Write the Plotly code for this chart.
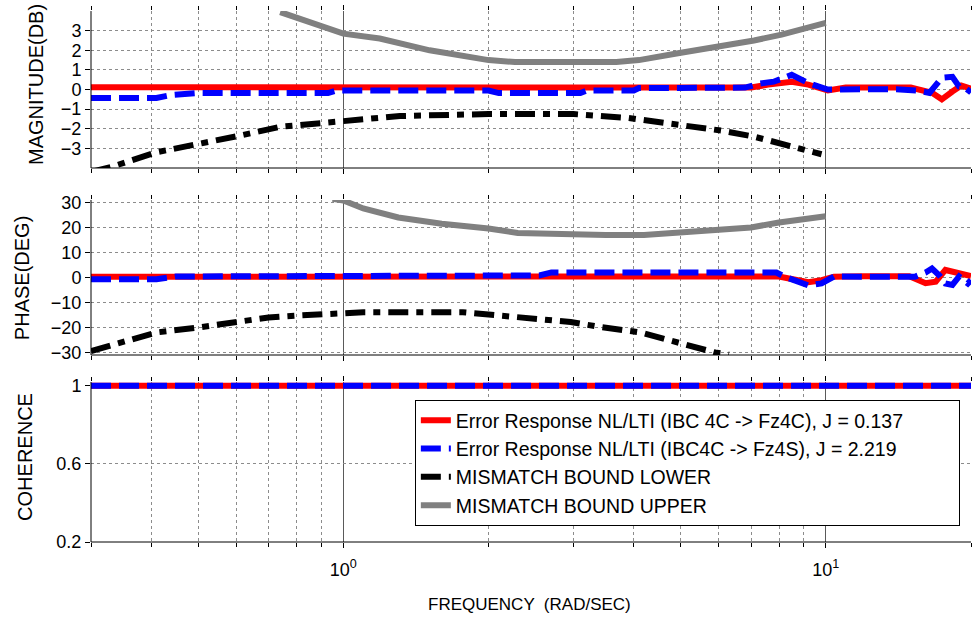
import plotly.graph_objects as go

FONT = "Liberation Sans, Arial, sans-serif"

# ---------------- data ----------------
# Magnitude error responses (dB)
mag_red_f = [0.3, 0.5, 1.0, 2.0, 4.0, 6.0, 7.0, 7.6, 8.5, 9.2, 10.1, 11.0, 13.0, 15.0, 16.6, 17.4, 18.3, 19.1, 20.0]
mag_red_v = [0.12, 0.12, 0.12, 0.12, 0.12, 0.1, 0.1, 0.25, 0.4, 0.25, -0.05, 0.1, 0.12, 0.1, -0.17, -0.5, -0.1, 0.2, 0.05]

mag_blue_f = [0.3, 0.41, 0.44, 0.5, 0.93, 0.97, 2.0, 2.1, 3.1, 3.2, 4.0, 4.1, 5.0, 6.0, 6.8, 7.3,
              7.8, 8.5, 9.2, 10.1, 12.0, 14.0, 15.5, 16.4, 17.4, 18.3, 18.9, 19.4, 20.0]
mag_blue_v = [-0.43, -0.43, -0.28, -0.18, -0.18, -0.05, -0.05, -0.18, -0.18, -0.05, -0.05, 0.08, 0.08, 0.08, 0.1, 0.3,
              0.4, 0.75, 0.33, 0.0, 0.02, 0.02, -0.05, -0.17, 0.6, 0.65, 0.15, 0.1, -0.15]

mag_low_f = [0.3, 0.33, 0.41, 0.5, 0.61, 0.74, 0.94, 1.31, 2.0, 3.0, 3.9, 4.3, 5.1, 6.1, 7.1, 8.1, 9.8]
mag_low_v = [-4.2, -3.95, -3.2, -2.8, -2.35, -1.9, -1.65, -1.35, -1.25, -1.25, -1.45, -1.6, -1.8, -2.1, -2.4, -2.75, -3.3]

mag_up_f = [0.74, 0.85, 1.0, 1.19, 1.51, 2.0, 2.27, 3.68, 4.1, 4.94, 6.07, 7.1, 8.1, 9.1, 10.0]
mag_up_v = [3.95, 3.45, 2.85, 2.6, 2.0, 1.5, 1.4, 1.4, 1.5, 1.85, 2.2, 2.5, 2.8, 3.1, 3.4]

# Phase error responses (deg)
ph_red_f = [0.3, 1.0, 3.0, 6.0, 8.0, 8.6, 9.2, 9.8, 10.4, 12.0, 14.9, 16.1, 16.9, 17.7, 18.6, 19.8, 20.0]
ph_red_v = [0.3, 0.3, 0.3, 0.3, 0.4, -0.8, -1.9, -1.1, 0.3, 0.5, 0.5, -2.3, -1.7, 3.0, 2.0, 0.9, 0.6]

ph_blue_f = [0.3, 0.41, 0.45, 0.58, 0.62, 0.97, 1.02, 2.2, 2.35, 2.55, 2.7, 5.0, 7.9, 8.2, 8.8, 9.2,
             9.8, 10.4, 12.0, 15.3, 16.1, 16.6, 17.2, 17.7, 18.3, 18.9, 19.7, 20.0]
ph_blue_v = [-0.7, -0.7, 0.4, 0.4, 1.0, 1.0, 0.4, 0.4, 0.8, 0.8, 2.0, 2.0, 2.0, 0.4, -2.0, -3.2,
             -2.4, 0.4, 0.3, 0.3, 2.0, 3.6, 0.8, -2.4, -3.0, 0.4, -2.4, -1.0]

ph_low_f = [0.3, 0.36, 0.41, 0.5, 0.58, 0.7, 0.81, 0.94, 1.1, 1.77, 2.11, 2.56, 2.96, 3.41, 4.14, 5.0, 5.9, 6.3]
ph_low_v = [-29.4, -25.0, -22.0, -20.0, -18.4, -16.0, -15.2, -14.4, -13.9, -13.9, -15.2, -16.4, -17.8, -19.8,
            -22.0, -26.3, -30.0, -30.8]

ph_up_f = [0.95, 1.0, 1.1, 1.3, 1.6, 2.0, 2.3, 2.8, 3.5, 4.2, 4.6, 5.0, 6.0, 7.0, 8.0, 9.0, 10.0]
ph_up_v = [31.5, 30.8, 27.6, 24.0, 21.5, 19.6, 17.8, 17.2, 17.0, 17.0, 17.5, 18.0, 18.8, 20.0, 22.0, 23.2, 24.5]

# Coherence
coh_f = [0.3, 20.0]
coh_red = [1.0, 1.0]
coh_blue = [1.0, 1.0]

names = [
    "Error Response NL/LTI (IBC 4C -> Fz4C), J = 0.137",
    "Error Response NL/LTI (IBC4C -> Fz4S), J = 2.219",
    "MISMATCH BOUND LOWER",
    "MISMATCH BOUND UPPER",
]

decade_ticks = [1, 10]
decade_text = ["10<sup>0</sup>", "10<sup>1</sup>"]
minor_ticks = [0.3, 0.4, 0.5, 0.6, 0.7, 0.8, 0.9, 2, 3, 4, 5, 6, 7, 8, 9, 20]

mag_ticks = [-3, -2, -1, 0, 1, 2, 3]
ph_ticks = [-30, -20, -10, 0, 10, 20, 30]
coh_ticks = [0.2, 0.6, 1]
coh_text = ["0.2", "0.6", "1"]

# ---------------- styles ----------------
W = 6
red = dict(color="#ff0000", width=W)
blue = dict(color="#0000ff", width=W, dash="20px,8px")
black = dict(color="#000000", width=W, dash="20px,8px,7px,8px")
gray = dict(color="#808080", width=W)

fig = go.Figure()


def add(xa, ya, f, v, line, name, show):
    fig.add_trace(go.Scatter(x=f, y=v, mode="lines", line=line, name=name,
                             showlegend=show, legendgroup=name, xaxis=xa, yaxis=ya))


# magnitude
add("x", "y", mag_up_f, mag_up_v, gray, names[3], False)
add("x", "y", mag_low_f, mag_low_v, black, names[2], False)
add("x", "y", mag_red_f, mag_red_v, red, names[0], False)
add("x", "y", mag_blue_f, mag_blue_v, blue, names[1], False)
# phase
add("x2", "y2", ph_up_f, ph_up_v, gray, names[3], False)
add("x2", "y2", ph_low_f, ph_low_v, black, names[2], False)
add("x2", "y2", ph_red_f, ph_red_v, red, names[0], False)
add("x2", "y2", ph_blue_f, ph_blue_v, blue, names[1], False)
# coherence (carries the legend)
add("x3", "y3", coh_f, coh_red, red, names[0], True)
add("x3", "y3", coh_f, coh_blue, blue, names[1], True)
add("x3", "y3", [None], [None], black, names[2], True)
add("x3", "y3", [None], [None], gray, names[3], True)

tick_font = dict(family=FONT, size=18, color="black")
GRID = "#8c8c8c"

xbase = dict(type="log", range=[-0.5229, 1.30103], tickmode="array", tickvals=decade_ticks,
             ticktext=decade_text,
             ticks="outside", ticklen=5, tickcolor="black", showline=False, mirror="ticks",
             showgrid=True, gridcolor="#5a5a5a", griddash="solid", gridwidth=1, zeroline=False,
             tickfont=tick_font, ticklabelstandoff=6,
             minor=dict(tickmode="array", tickvals=minor_ticks, ticks="outside", ticklen=4,
                        tickcolor="black", showgrid=True, gridcolor=GRID, griddash="dot", gridwidth=1))
ybase = dict(ticks="outside", ticklen=5, tickcolor="black", showline=False, mirror="ticks",
             showgrid=True, gridcolor=GRID, griddash="dot", gridwidth=1, zeroline=False,
             tickfont=tick_font)

doms = {"y": [0.703, 0.998], "y2": [0.3515, 0.643], "y3": [0.0, 0.3008]}

fig.update_layout(
    width=972, height=621,
    margin=dict(l=91, r=1, t=10, b=79),
    paper_bgcolor="white", plot_bgcolor="white",
    font=dict(family=FONT, color="black"),
    xaxis=dict(xbase, anchor="y", showticklabels=False),
    xaxis2=dict(xbase, anchor="y2", showticklabels=False),
    xaxis3=dict(xbase, anchor="y3", showticklabels=True),
    yaxis=dict(ybase, domain=doms["y"], anchor="x", range=[-4, 4], tickmode="array", tickvals=mag_ticks),
    yaxis2=dict(ybase, domain=doms["y2"], anchor="x2", range=[-31, 31], tickmode="array", tickvals=ph_ticks),
    yaxis3=dict(ybase, domain=doms["y3"], anchor="x3", range=[0.2, 1.02], tickmode="array",
                tickvals=coh_ticks, ticktext=coh_text),
    legend=dict(x=0.368, y=0.267, xanchor="left", yanchor="top", bgcolor="white",
                bordercolor="black", borderwidth=1, font=dict(family=FONT, size=19.5, color="black"),
                orientation="h", entrywidth=498, entrywidthmode="pixels", traceorder="normal"),
    showlegend=True,
)

# left and bottom axis lines of each panel
for xa, ya in [("x", "y"), ("x2", "y2"), ("x3", "y3")]:
    fig.add_shape(type="line", xref=f"{xa} domain", yref=f"{ya} domain", x0=0, x1=1, y0=0, y1=0,
                  line=dict(color="black", width=1))
    fig.add_shape(type="line", xref=f"{xa} domain", yref=f"{ya} domain", x0=0, x1=0, y0=0, y1=1,
                  line=dict(color="black", width=1))

# axis titles
titles = [
    ("MAGNITUDE(DB)", -0.0625, 0.859),
    ("PHASE(DEG)", -0.0784, 0.496),
    ("COHERENCE", -0.075, 0.16),
]
for txt, x, y in titles:
    fig.add_annotation(text=txt, xref="paper", yref="paper", x=x, y=y, textangle=-90,
                       showarrow=False, font=dict(family=FONT, size=20, color="black"),
                       xanchor="center", yanchor="middle")
fig.add_annotation(text="FREQUENCY  (RAD/SEC)", xref="paper", yref="paper", x=0.498, y=-0.118,
                   showarrow=False, font=dict(family=FONT, size=17, color="black"),
                   xanchor="center", yanchor="middle")

fig.write_html("out.html")
